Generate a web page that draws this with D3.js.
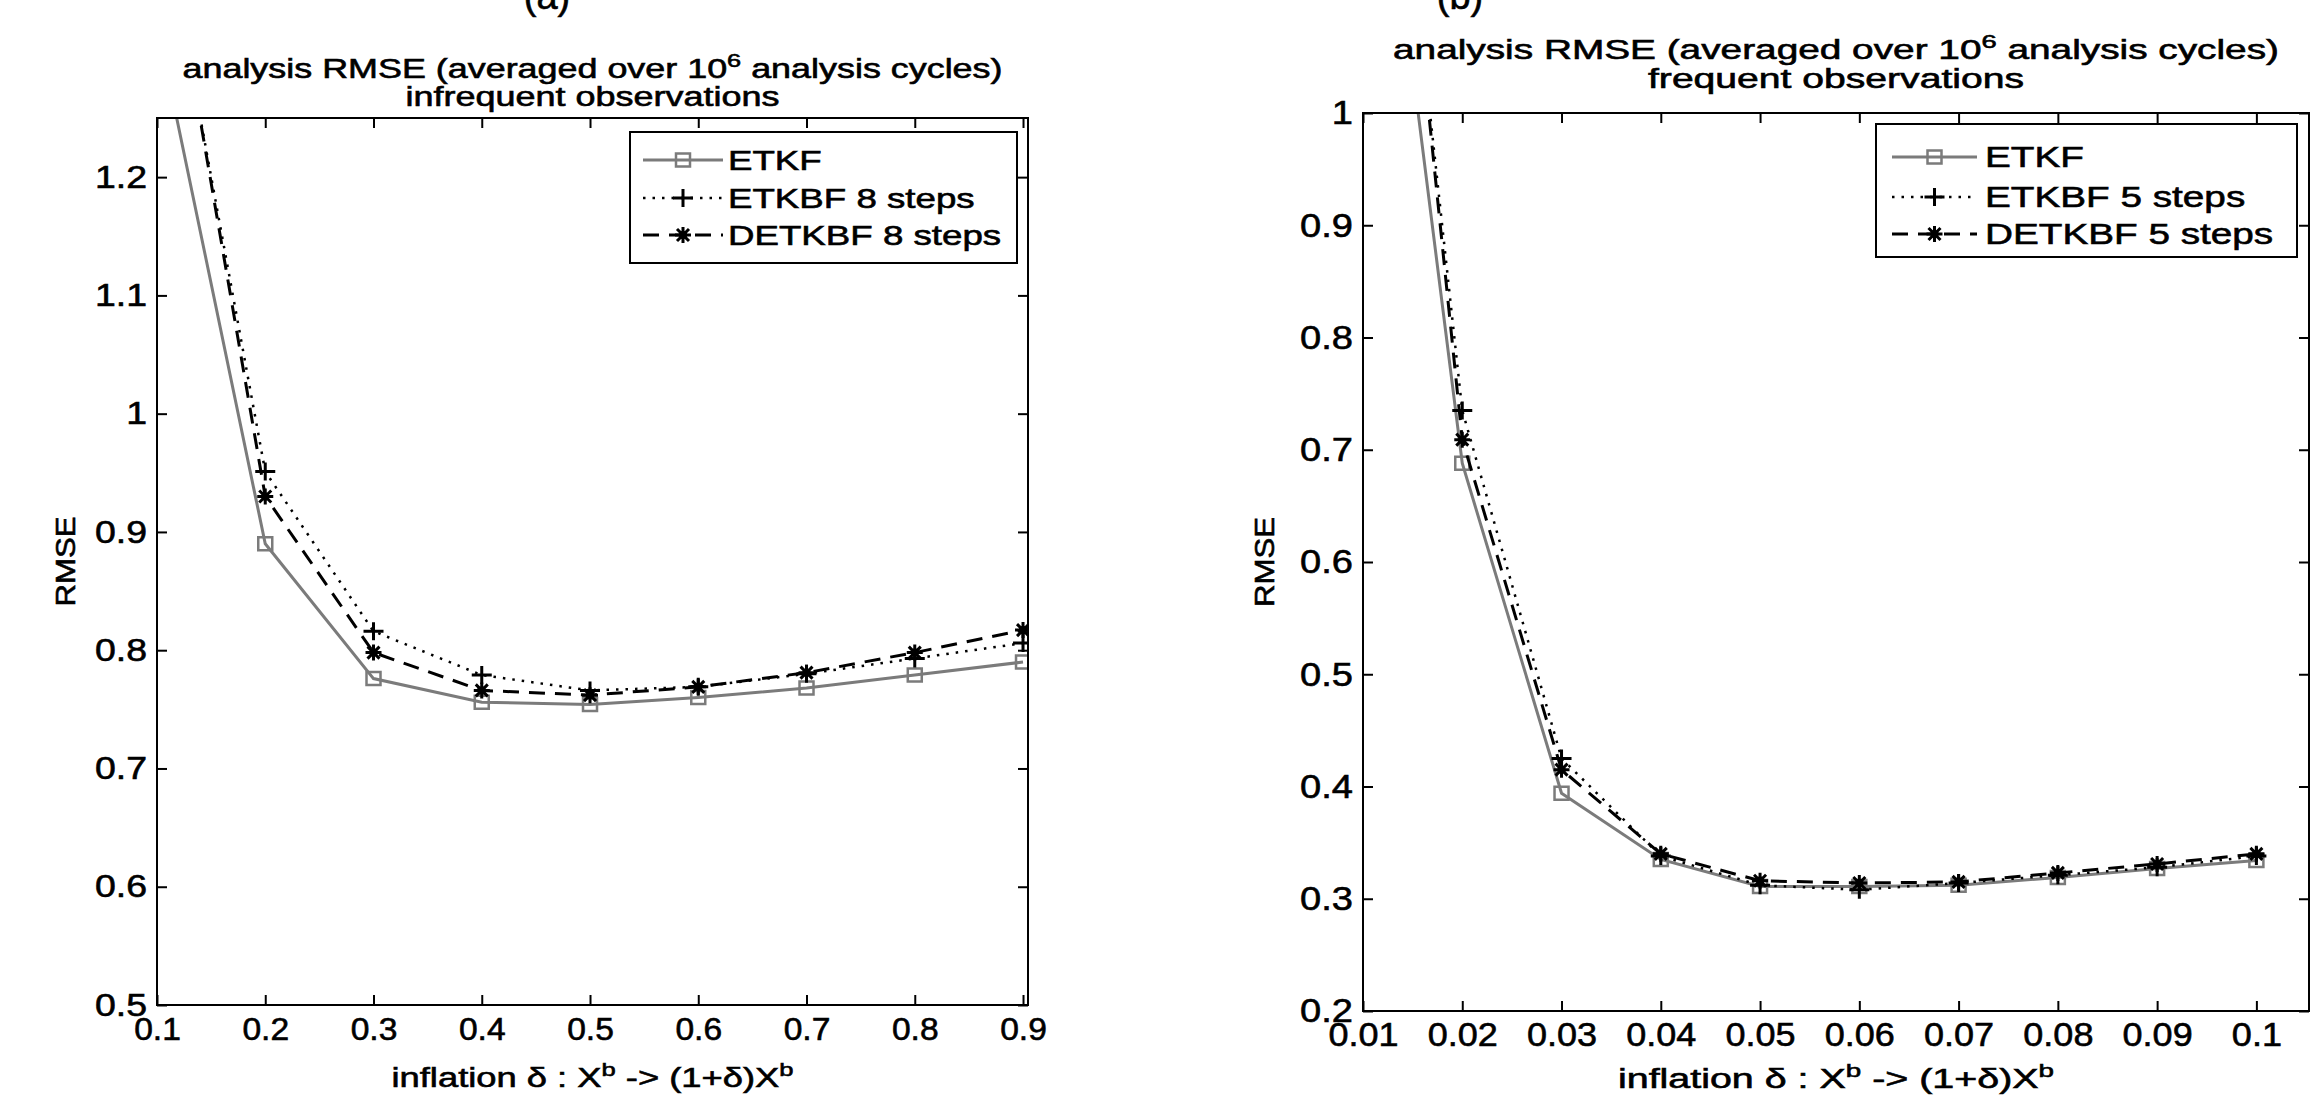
<!DOCTYPE html>
<html>
<head>
<meta charset="utf-8">
<title>analysis RMSE vs inflation</title>
<script src="https://d3js.org/d3.v7.min.js"></script>
<style>
  body { margin: 0; background: #fff; }
  svg text { font-family: "Liberation Sans", Arial, sans-serif; fill: #000; stroke: #000; stroke-width: 0.6; }
</style>
</head>
<body>
<svg id="fig" width="2318" height="1098"></svg>
<script>
// panel (a): infrequent observations, 8 steps
var inflationA = [0.1, 0.2, 0.3, 0.4, 0.5, 0.6, 0.7, 0.8, 0.9];
var etkfA   = [1.33, 0.890, 0.776, 0.756, 0.754, 0.760, 0.768, 0.779, 0.790];
var etkbfA  = [1.45, 0.951, 0.816, 0.779, 0.766, 0.769, 0.780, 0.793, 0.806];
var detkbfA = [1.46, 0.930, 0.798, 0.766, 0.762, 0.769, 0.781, 0.798, 0.817];
var xTicksA = [0.1, 0.2, 0.3, 0.4, 0.5, 0.6, 0.7, 0.8, 0.9];
var yTicksA = [0.5, 0.6, 0.7, 0.8, 0.9, 1, 1.1, 1.2];
var legendA = ["ETKF", "ETKBF 8 steps", "DETKBF 8 steps"];
var subtitleA = "infrequent observations";

// panel (b): frequent observations, 5 steps
var inflationB = [0.01, 0.02, 0.03, 0.04, 0.05, 0.06, 0.07, 0.08, 0.09, 0.1];
var etkfB   = [1.39, 0.688, 0.394, 0.335, 0.311, 0.311, 0.312, 0.319, 0.327, 0.334];
var etkbfB  = [1.55, 0.735, 0.425, 0.338, 0.312, 0.308, 0.314, 0.321, 0.328, 0.338];
var detkbfB = [1.57, 0.709, 0.415, 0.340, 0.316, 0.314, 0.315, 0.323, 0.331, 0.340];
var xTicksB = [0.01, 0.02, 0.03, 0.04, 0.05, 0.06, 0.07, 0.08, 0.09, 0.1];
var yTicksB = [0.2, 0.3, 0.4, 0.5, 0.6, 0.7, 0.8, 0.9, 1];
var legendB = ["ETKF", "ETKBF 5 steps", "DETKBF 5 steps"];
var subtitleB = "frequent observations";

var svg = d3.select("#fig");

// stretch text horizontally (the source figure was resized wider than tall)
function stretch(sel, k) {
  sel.each(function () {
    var w = this.getComputedTextLength();
    d3.select(this).attr("textLength", w * k).attr("lengthAdjust", "spacingAndGlyphs");
  });
}
function fitWidth(sel, w) {
  sel.attr("textLength", w).attr("lengthAdjust", "spacingAndGlyphs");
}

var fmt = function (d) { return String(+d.toFixed(2)); };

// marker shapes
var squarePath = "M-7,-6.5h14v13h-14z";
var plusPath = "M-10,0H10M0,-9V9";
var starPath = "M-8,0H8M0,-8V8M-6,-6L6,6M-6,6L6,-6";

var styles = [
  { color: "#7b7b7b", width: 3, dash: null, marker: squarePath, mw: 2.5 },
  { color: "#000", width: 2.5, dash: "2.5,7", marker: plusPath, mw: 3 },
  { color: "#000", width: 3, dash: "16,10", marker: starPath, mw: 3 }
];

function drawPanel(p) {
  var x = d3.scaleLinear().domain(p.xDomain).range([p.left, p.right]);
  var y = d3.scaleLinear().domain(p.yDomain).range([p.bottom, p.top]);
  var g = svg.append("g");

  // ticks, pointing inward on all four sides
  var ax = g.append("g").attr("transform", "translate(0," + p.bottom + ")")
    .call(d3.axisBottom(x).tickValues(p.xTicks).tickFormat(fmt).tickSize(-10).tickSizeOuter(0).tickPadding(p.xPad));
  var ay = g.append("g").attr("transform", "translate(" + p.left + ",0)")
    .call(d3.axisLeft(y).tickValues(p.yTicks).tickFormat(fmt).tickSize(-10).tickSizeOuter(0).tickPadding(10));
  g.append("g").attr("transform", "translate(0," + p.top + ")")
    .call(d3.axisTop(x).tickValues(p.xTicks).tickFormat("").tickSize(-10).tickSizeOuter(0));
  g.append("g").attr("transform", "translate(" + p.right + ",0)")
    .call(d3.axisRight(y).tickValues(p.yTicks).tickFormat("").tickSize(-10).tickSizeOuter(0));
  g.selectAll(".domain").remove();
  g.selectAll(".tick line").attr("stroke", "#000").attr("stroke-width", 2);
  g.selectAll(".tick text").attr("font-family", "Liberation Sans, Arial, sans-serif")
    .attr("font-size", p.tickFont).attr("fill", "#000");
  stretch(ax.selectAll(".tick text"), p.xStretch);
  stretch(ay.selectAll(".tick text"), p.yStretch);

  // series
  var clipId = "clip" + p.id;
  svg.append("clipPath").attr("id", clipId).append("rect")
    .attr("x", p.left).attr("y", p.top).attr("width", p.right - p.left).attr("height", p.bottom - p.top);
  var plot = g.append("g").attr("clip-path", "url(#" + clipId + ")");
  p.series.forEach(function (vals, i) {
    var st = styles[i];
    var pts = p.xs.map(function (d, j) { return [d, vals[j]]; });
    plot.append("path").datum(pts)
      .attr("fill", "none").attr("stroke", st.color).attr("stroke-width", st.width)
      .attr("stroke-dasharray", st.dash)
      .attr("d", d3.line().x(function (d) { return x(d[0]); }).y(function (d) { return y(d[1]); }));
    plot.selectAll(".m" + i).data(pts).enter().append("path")
      .attr("transform", function (d) { return "translate(" + x(d[0]) + "," + y(d[1]) + ")"; })
      .attr("d", st.marker).attr("fill", "none").attr("stroke", st.color).attr("stroke-width", st.mw);
    if (i === 2) {
      plot.selectAll(".dot").data(pts).enter().append("circle")
        .attr("cx", function (d) { return x(d[0]); }).attr("cy", function (d) { return y(d[1]); })
        .attr("r", 4).attr("fill", "#000");
    }
  });

  // frame
  g.append("rect").attr("x", p.left).attr("y", p.top)
    .attr("width", p.right - p.left).attr("height", p.bottom - p.top)
    .attr("fill", "none").attr("stroke", "#000").attr("stroke-width", 2);

  // legend
  var lg = g.append("g");
  lg.append("rect").attr("x", p.leg.x).attr("y", p.leg.y).attr("width", p.leg.w).attr("height", p.leg.h)
    .attr("fill", "#fff").attr("stroke", "#000").attr("stroke-width", 2);
  p.legend.forEach(function (name, i) {
    var st = styles[i];
    var cy = p.leg.rows[i];
    lg.append("line").attr("x1", p.leg.x0).attr("x2", p.leg.x1).attr("y1", cy).attr("y2", cy)
      .attr("stroke", st.color).attr("stroke-width", i === 0 ? 3 : st.width).attr("stroke-dasharray", st.dash);
    var mx = (p.leg.x0 + p.leg.x1) / 2;
    lg.append("path").attr("transform", "translate(" + mx + "," + cy + ")")
      .attr("d", st.marker).attr("fill", "none").attr("stroke", st.color).attr("stroke-width", st.mw);
    if (i === 2) lg.append("circle").attr("cx", mx).attr("cy", cy).attr("r", 4).attr("fill", "#000");
    lg.append("text").attr("x", p.leg.tx).attr("y", cy + 10).attr("font-size", p.leg.font)
      .text(name).call(stretch, p.leg.k);
  });

  // titles
  var cx = (p.left + p.right) / 2;
  var t1 = g.append("text").attr("x", cx).attr("y", p.t1y).attr("text-anchor", "middle").attr("font-size", 27);
  t1.append("tspan").text("analysis RMSE (averaged over 10");
  t1.append("tspan").attr("dy", -11).attr("font-size", 19).text("6");
  t1.append("tspan").attr("dy", 11).text(" analysis cycles)");
  fitWidth(t1, p.t1w);
  g.append("text").attr("x", cx).attr("y", p.t2y).attr("text-anchor", "middle").attr("font-size", 27)
    .text(p.subtitle).call(fitWidth, p.t2w);

  // axis labels
  var xl = g.append("text").attr("x", cx).attr("y", p.xly).attr("text-anchor", "middle").attr("font-size", 27);
  xl.append("tspan").text("inflation \u03b4 : X");
  xl.append("tspan").attr("dy", -11).attr("font-size", 19).text("b");
  xl.append("tspan").attr("dy", 11).text(" -> (1+\u03b4)X");
  xl.append("tspan").attr("dy", -11).attr("font-size", 19).text("b");
  fitWidth(xl, p.xlw);
  g.append("text").attr("transform", "translate(" + p.ylx + "," + ((p.top + p.bottom) / 2) + ") rotate(-90)")
    .attr("text-anchor", "middle").attr("font-size", 28).text("RMSE").call(fitWidth, 90);

  // panel letter, cut off by the top edge of the picture
  g.append("text").attr("x", p.letterX).attr("y", 9).attr("text-anchor", "middle").attr("font-size", 38)
    .text(p.letter);
}

drawPanel({
  id: "A", left: 157, right: 1028, top: 118, bottom: 1005,
  xDomain: [0.1, 0.9046], yDomain: [0.5, 1.25],
  xTicks: xTicksA, yTicks: yTicksA, xs: inflationA,
  series: [etkfA, etkbfA, detkbfA], legend: legendA, subtitle: subtitleA,
  tickFont: 32, xPad: 12, xStretch: 1.05, yStretch: 1.17,
  leg: { x: 630, y: 132, w: 387, h: 131, rows: [160, 198, 235], x0: 643, x1: 723, tx: 728, font: 28, k: 1.31 },
  t1y: 78, t2y: 106, t1w: 820, t2w: 374, xly: 1087, xlw: 402, ylx: 75,
  letter: "(a)", letterX: 547
});

drawPanel({
  id: "B", left: 1363, right: 2309, top: 113, bottom: 1011,
  xDomain: [0.01, 0.1053], yDomain: [0.2, 1],
  xTicks: xTicksB, yTicks: yTicksB, xs: inflationB,
  series: [etkfB, etkbfB, detkbfB], legend: legendB, subtitle: subtitleB,
  tickFont: 34, xPad: 11, xStretch: 1.06, yStretch: 1.12,
  leg: { x: 1876, y: 124, w: 421, h: 133, rows: [157, 197, 234], x0: 1892, x1: 1977, tx: 1985, font: 30, k: 1.29 },
  t1y: 59, t2y: 88, t1w: 886, t2w: 376, xly: 1088, xlw: 436, ylx: 1274,
  letter: "(b)", letterX: 1460
});
</script>
</body>
</html>
